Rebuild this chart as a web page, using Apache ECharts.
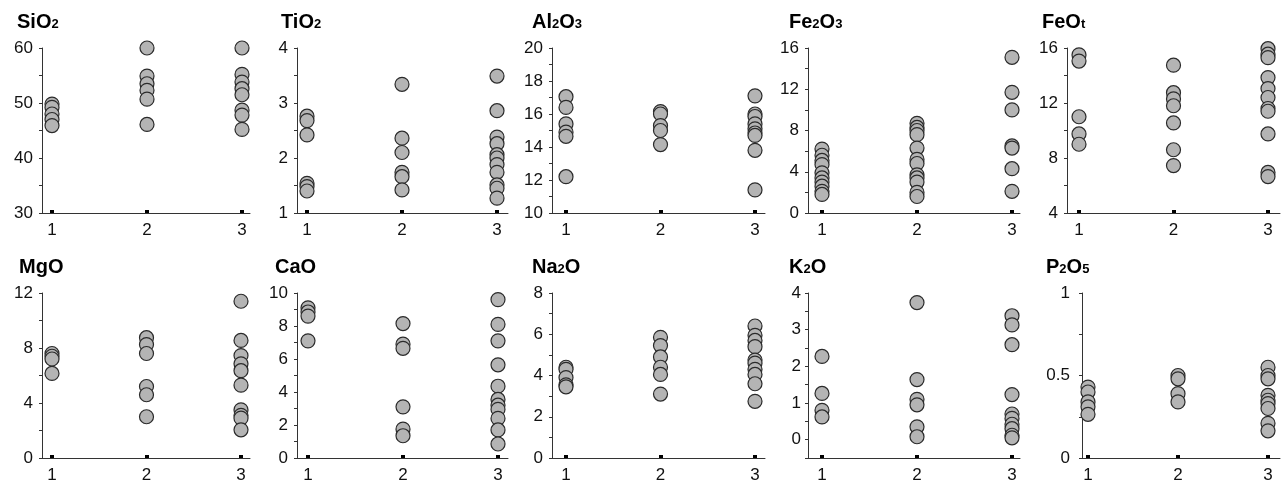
<!DOCTYPE html>
<html><head><meta charset="utf-8">
<script src="https://cdn.jsdelivr.net/npm/echarts@6/dist/echarts.min.js"></script>
<style>html,body{margin:0;padding:0;background:#fff}#c{width:1284px;height:488px}</style>
</head><body><div id="c"></div>
<script>
// ---- data ----
const categories = [1, 2, 3];
const titles = [
  [['SiO',0],['2',1]], [['TiO',0],['2',1]], [['Al',0],['2',1],['O',0],['3',1]],
  [['Fe',0],['2',1],['O',0],['3',1]], [['FeO',0],['t',1]],
  [['MgO',0]], [['CaO',0]], [['Na',0],['2',1],['O',0]], [['K',0],['2',1],['O',0]],
  [['P',0],['2',1],['O',0],['5',1]]
];
const SiO2  = [[49.8, 49.2, 48.0, 47.0, 45.9], [60, 54.9, 53.5, 52.3, 50.7, 46.1], [60, 55.2, 53.8, 52.6, 51.5, 48.7, 47.8, 45.2]];
const TiO2  = [[2.76, 2.68, 2.42, 1.54, 1.48, 1.40], [3.34, 2.36, 2.10, 1.74, 1.66, 1.42], [3.49, 2.86, 2.38, 2.26, 2.06, 2.0, 1.88, 1.74, 1.51, 1.45, 1.27]];
const Al2O3 = [[17.05, 16.4, 15.4, 14.9, 14.65, 12.2], [16.15, 16.0, 15.3, 15.0, 14.15], [17.1, 16.0, 15.85, 15.4, 15.1, 14.85, 14.7, 13.8, 11.4]];
const Fe2O3 = [[6.2, 5.6, 5.1, 4.7, 3.9, 3.4, 3.0, 2.6, 2.1, 1.8], [8.7, 8.3, 8.0, 7.6, 6.3, 5.2, 4.8, 3.7, 3.4, 3.0, 2.0, 1.6], [15.1, 11.7, 10.0, 6.5, 6.3, 4.3, 2.1]];
const FeOt  = [[15.5, 15.05, 11.0, 9.75, 9.0], [14.75, 12.75, 12.3, 11.8, 10.55, 8.6, 7.45], [15.95, 15.55, 15.3, 13.85, 13.05, 12.4, 11.6, 11.4, 9.75, 6.95, 6.65]];
const MgO   = [[7.6, 7.4, 7.2, 6.15], [8.75, 8.25, 7.6, 5.2, 4.6, 3.0], [11.4, 8.55, 7.45, 6.85, 6.35, 5.3, 3.5, 3.1, 2.9, 2.05]];
const CaO   = [[9.1, 8.85, 8.6, 7.1], [8.15, 6.9, 6.65, 3.1, 1.75, 1.35], [9.6, 8.1, 7.1, 5.65, 4.35, 3.55, 3.2, 2.95, 2.4, 1.7, 0.85]];
const Na2O  = [[4.4, 4.3, 3.9, 3.55, 3.45], [5.85, 5.45, 4.9, 4.4, 4.05, 3.1], [6.4, 5.95, 5.7, 5.4, 4.75, 4.6, 4.3, 4.05, 3.6, 2.75]];
const K2O   = [[2.27, 1.26, 0.8, 0.62], [3.74, 1.64, 1.1, 0.95, 0.35, 0.08], [3.38, 3.13, 2.59, 1.23, 0.7, 0.58, 0.42, 0.3, 0.12, 0.05]];
const P2O5  = [[0.43, 0.40, 0.34, 0.31, 0.265], [0.5, 0.48, 0.39, 0.34], [0.55, 0.5, 0.48, 0.38, 0.35, 0.33, 0.3, 0.21, 0.165]];
const panels = [SiO2, TiO2, Al2O3, Fe2O3, FeOt, MgO, CaO, Na2O, K2O, P2O5];
const yMin = [30, 1, 10, 0, 4, 0, 0, 0, -0.5, 0];
const yMax = [60, 4, 20, 16, 16, 12, 10, 8, 4, 1];
const yTickStep = [5, 0.5, 1, 2, 2, 2, 1, 1, 0.5, 0.25];
const yLabelStep = [10, 1, 2, 4, 4, 4, 2, 2, 1, 0.5];

// ---- layout (pixels) ----
// [axisX, cat1X, cat3X, rightX]
const layoutX = [
  [42, 52, 242, 250], [297, 307, 497, 508], [552, 566, 755, 765], [808, 822, 1012, 1020], [1067, 1079, 1268, 1280],
  [42, 52, 241, 250], [297, 308, 498, 508], [552, 566, 755, 765], [808, 822, 1012, 1020], [1082, 1088, 1268, 1280]
];
const rowTop = [48, 293], rowBottom = [213, 458];
const titleLeft = [17, 281, 532, 789, 1042, 19, 275, 532, 789, 1046];
const titleTop = [10, 255];
const labelMargin = [9, 9, 9, 9, 9, 9, 9, 9, 7, 12];
const FONT = 'Liberation Sans, Arial, sans-serif';

const grid = [], xAxis = [], yAxis = [], series = [], title = [];
panels.forEach((p, i) => {
  const row = i < 5 ? 0 : 1;
  const [ax, c1, c3, rx] = layoutX[i];
  const sp = (c3 - c1) / 2;
  grid.push({left: ax, top: rowTop[row], width: rx - ax, height: rowBottom[row] - rowTop[row]});
  xAxis.push({
    type: 'value', gridIndex: i,
    min: 1 - (c1 - ax) / sp, max: 3 + (rx - c3) / sp,
    splitLine: {show: false},
    axisLine: {onZero: false, lineStyle: {color: '#333', width: 1}},
    axisTick: {show: true, customValues: categories, inside: true, length: 3, lineStyle: {color: '#000', width: 4}},
    axisLabel: {customValues: categories, margin: 9, fontSize: 17, color: '#111', fontFamily: FONT}
  });
  const ls = yLabelStep[i];
  yAxis.push({
    type: 'value', gridIndex: i, min: yMin[i], max: yMax[i], interval: yTickStep[i],
    splitLine: {show: false},
    axisLine: {show: true, onZero: false, lineStyle: {color: '#333', width: 1}},
    axisTick: {show: true, length: 3, lineStyle: {color: '#333'}},
    axisLabel: {
      margin: labelMargin[i], fontSize: 17, color: '#111', fontFamily: FONT,
      formatter: v => { const r = v / ls; return Math.abs(r - Math.round(r)) < 1e-6 ? String(+v.toFixed(2)) : ''; }
    }
  });
  const data = [];
  p.forEach((vals, c) => vals.forEach(v => data.push([categories[c], v])));
  series.push({
    type: 'scatter', xAxisIndex: i, yAxisIndex: i, data,
    symbol: 'circle', symbolSize: 14,
    itemStyle: {color: '#b4b4b4', borderColor: '#2a2a2a', borderWidth: 1.2, opacity: 1},
    emphasis: {disabled: true}
  });
  const txt = titles[i].map(([t, s]) => `{${s ? 'b' : 'a'}|${t}}`).join('');
  title.push({
    left: titleLeft[i], top: titleTop[row], text: txt, padding: 0,
    textStyle: {
      rich: {
        a: {fontSize: 20, fontWeight: 'bold', color: '#000', fontFamily: FONT, lineHeight: 22, verticalAlign: 'bottom'},
        b: {fontSize: 13, fontWeight: 'bold', color: '#000', fontFamily: FONT, lineHeight: 15, verticalAlign: 'bottom', padding: [0, 0, 1, 0]}
      }
    }
  });
});

const chart = echarts.init(document.getElementById('c'), null, {renderer: 'canvas'});
chart.setOption({animation: false, backgroundColor: '#fff', title, grid, xAxis, yAxis, series});
</script>
</body></html>
